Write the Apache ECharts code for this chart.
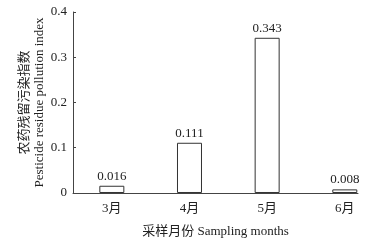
<!DOCTYPE html>
<html><head><meta charset="utf-8">
<script src="https://cdn.jsdelivr.net/npm/echarts@6/dist/echarts.min.js"></script>
<style>html,body{margin:0;padding:0;background:#fff}#c{width:374px;height:243px}</style>
</head><body><div id="c"></div>
<script>
const categories = ['3月', '4月', '5月', '6月'];
const values = [0.016, 0.111, 0.343, 0.008];
const yTicks = [0, 0.1, 0.2, 0.3, 0.4];

const FONT = '"Liberation Serif", "Noto Sans CJK SC", serif';
const chart = echarts.init(document.getElementById('c'), null, {renderer: 'canvas'});
chart.setOption({
  animation: false,
  backgroundColor: '#fff',
  textStyle: {fontFamily: FONT},
  grid: {left: 73, right: 16, top: 12, bottom: 42, containLabel: false},
  xAxis: {
    type: 'value', min: -0.5, max: 3.17, interval: 0.5,
    name: '采样月份 Sampling months', nameLocation: 'middle', nameGap: 32,
    nameTextStyle: {fontFamily: FONT, fontSize: 13, color: '#222'},
    axisLine: {show: true, onZero: false, lineStyle: {color: '#444', width: 1}},
    axisTick: {show: false},
    splitLine: {show: false},
    axisLabel: {
      margin: 9, fontFamily: FONT, fontSize: 13, color: '#222',
      showMinLabel: false, showMaxLabel: false,
      formatter: v => Number.isInteger(v) && categories[v] ? categories[v] : ''
    }
  },
  yAxis: {
    type: 'value', min: yTicks[0], max: yTicks[yTicks.length - 1], interval: 0.1,
    name: '农药残留污染指数\nPesticide residue pollution index',
    nameLocation: 'middle', nameRotate: 90, nameGap: 26, nameMoveOverlap: false,
    nameTextStyle: {fontFamily: FONT, fontSize: 13, color: '#222', lineHeight: 15},
    axisLine: {show: true, onZero: false, lineStyle: {color: '#444', width: 1}},
    axisTick: {show: true, inside: true, length: 3, lineStyle: {color: '#444'}},
    splitLine: {show: false},
    axisLabel: {margin: 6, fontFamily: FONT, fontSize: 13, color: '#222',
      formatter: v => v === 0 ? '0' : v.toFixed(1)}
  },
  series: [{
    type: 'bar',
    barWidth: 25,
    data: values.map((v, i) => [i, v]),
    itemStyle: {color: '#fff', borderColor: '#333', borderWidth: 1},
    label: {show: true, position: 'top', distance: 3, fontFamily: FONT, fontSize: 13, color: '#222',
      formatter: p => values[p.dataIndex].toFixed(3)}
  }]
});
</script></body></html>
